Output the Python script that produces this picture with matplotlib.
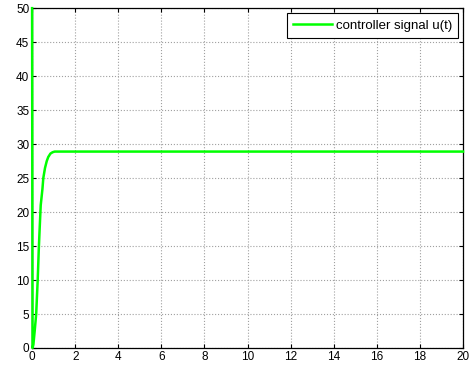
import numpy as np
import matplotlib.pyplot as plt

plt.rcParams['font.family'] = ['Liberation Sans', 'DejaVu Sans']

# controller output
t = [0, 0.02, 0.06, 0.12, 0.19, 0.26, 0.31, 0.35, 0.40, 0.48, 0.52, 0.60, 0.68, 0.75, 0.85, 0.95, 1.05, 1.15, 20]
u = [50, 0.0, 0.5, 2.5, 5.0, 10.0, 14.5, 17.5, 21.0, 23.4, 25.0, 26.5, 27.5, 28.1, 28.6, 28.8, 28.9, 28.9, 28.9]

xticks = np.arange(0, 21, 2)
yticks = np.arange(0, 51, 5)

fig = plt.figure(figsize=(4.72, 3.71), dpi=100)
ax = fig.add_axes([0.068, 0.062, 0.913, 0.916])

ax.plot(t, u, color='#00ff00', lw=1.8, label='controller signal u(t)',
        zorder=4, clip_on=False)

ax.set_xlim(0, 20)
ax.set_ylim(0, 50)
ax.set_xticks(xticks)
ax.set_yticks(yticks)
ax.grid(True, color='#a0a0a0', linestyle=':', linewidth=0.8)
ax.tick_params(direction='in', top=True, right=True, labelsize=8.5, length=3, pad=2)
for s in ax.spines.values():
    s.set_linewidth(0.9)

leg = ax.legend(loc='upper right', fontsize=9.5, fancybox=False, framealpha=1,
                edgecolor='black', borderaxespad=0.4, handlelength=2.9,
                handletextpad=0.3, borderpad=0.45)
leg.get_frame().set_linewidth(0.8)

fig.savefig('out.png', dpi=100)
